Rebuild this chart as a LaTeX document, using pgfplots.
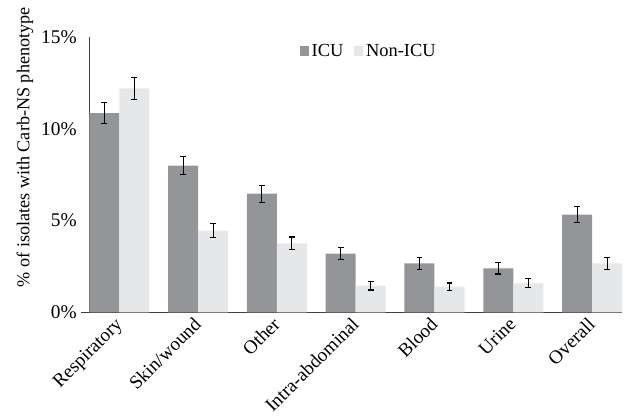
\documentclass[border=0pt]{standalone}
\usepackage{pgfplots}
\pgfplotsset{compat=1.18}
\usepackage{fontspec}
\setmainfont{Liberation Serif}
\definecolor{icu}{HTML}{939598}
\definecolor{nonicu}{HTML}{E6E7E8}
\definecolor{axisgray}{HTML}{404040}

\begin{document}
\begin{tikzpicture}
\begin{axis}[
    scale only axis,
    width=399pt, height=206pt,
    clip=false,
    ybar=0pt,
    bar width=22.5pt,
    xmin=-0.38, xmax=6.38,
    ymin=0, ymax=15,
    xtick={0,1,2,3,4,5,6},
    xticklabels={Respiratory, Skin/wound, Other, Intra-abdominal, Blood, Urine, Overall},
    x tick label style={rotate=45, anchor=north east, font=\fontsize{14.3}{16}\selectfont, xshift=-1.4pt, yshift=4.2pt},
    ytick={0,5,10,15},
    yticklabel={\pgfmathprintnumber{\tick}\%},
    y tick label style={font=\fontsize{14.5}{16}\selectfont, xshift=-6pt},
    /pgf/number format/assume math mode=true,
    major tick length=0pt,
    axis x line*=bottom,
    axis y line*=left,
    x axis line style={axisgray, line width=0.8pt, shorten <=-6pt},
    y axis line style={axisgray, line width=0.8pt},
    ylabel={\% of isolates with Carb-NS phenotype},
    ylabel style={font=\fontsize{13.6}{15}\selectfont, at={(ticklabel cs:0.6)}, yshift=-1pt},
    legend style={at={(0.525,0.95)}, anchor=center, draw=none, fill=none,
      legend columns=-1, font=\fontsize{13.8}{15}\selectfont,
      /tikz/every even column/.append style={column sep=6pt}},
    legend image code/.code={\fill[#1] (0pt,-3.5pt) rectangle (7pt,3.5pt);},
    error bars/y dir=both,
    error bars/y explicit,
    error bars/error bar style={black, line width=0.8pt},
    error bars/error mark options={rotate=90, mark size=2.2pt, line width=0.8pt, black},
]
\addplot[fill=icu, draw=none] coordinates {
    (0,10.87) +- (0,0.57)
    (1,8.00)  +- (0,0.50)
    (2,6.47)  +- (0,0.47)
    (3,3.20)  +- (0,0.33)
    (4,2.67)  +- (0,0.32)
    (5,2.40)  +- (0,0.31)
    (6,5.33)  +- (0,0.43)
};
\addplot[fill=nonicu, draw=none] coordinates {
    (0,12.22) +- (0,0.60)
    (1,4.46)  +- (0,0.38)
    (2,3.76)  +- (0,0.35)
    (3,1.46)  +- (0,0.24)
    (4,1.40)  +- (0,0.20)
    (5,1.58)  +- (0,0.25)
    (6,2.67)  +- (0,0.31)
};
\legend{ICU, Non-ICU}
% margins as in the reference
\path (rel axis cs:0,1) ++(-67pt,28pt) coordinate (tl);
\path (rel axis cs:1,0) ++(4.5pt,0pt) coordinate (br);
\end{axis}
\end{tikzpicture}
\end{document}
